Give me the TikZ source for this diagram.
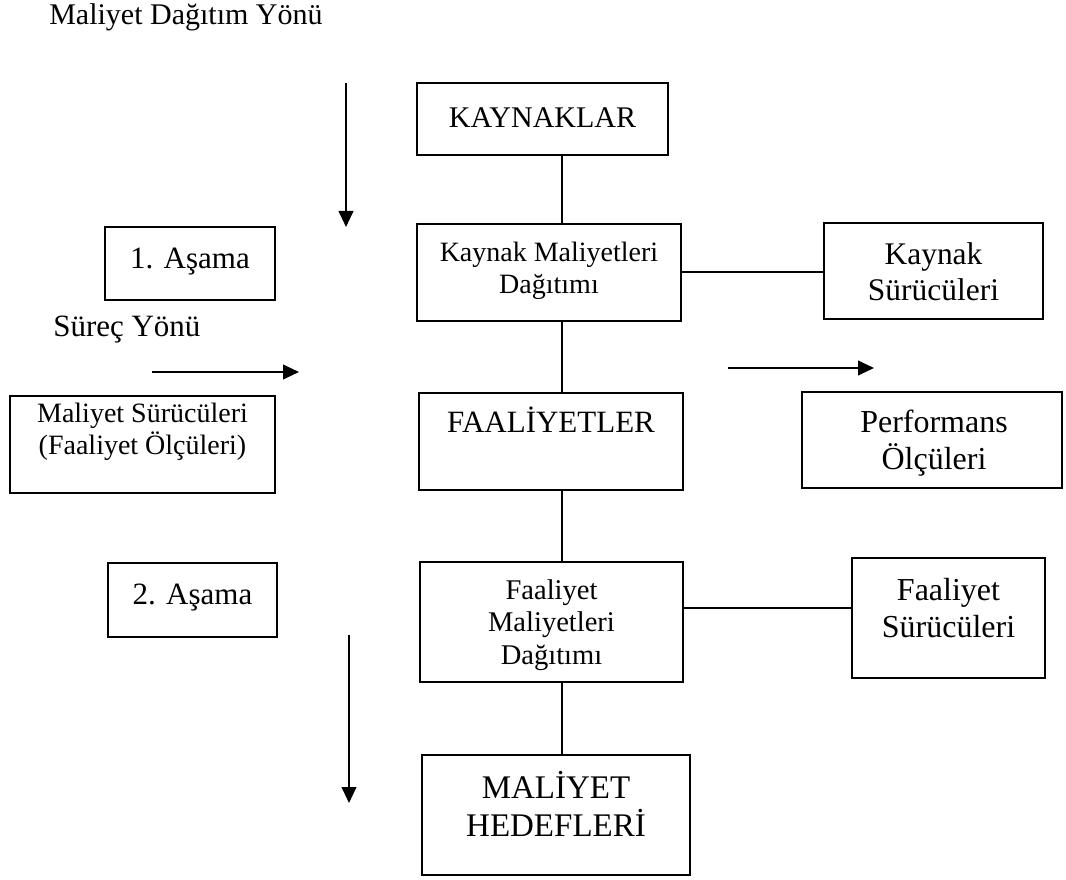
\documentclass[tikz,border=0pt]{standalone}
\usepackage{fontspec}
\setmainfont{Liberation Serif}
\usetikzlibrary{arrows.meta,calc}
\begin{document}
\begin{tikzpicture}[x=0.75pt,y=-0.75pt,
  box/.style={draw=black,line width=1.6pt,inner sep=0pt},
  sz/.style 2 args={minimum width=#1*0.75pt,minimum height=#2*0.75pt},
  lbl/.style={inner sep=0pt,align=center,text=black},
  conn/.style={draw=black,line width=1.5pt},
  flow/.style={draw=black,line width=1.5pt,-{Triangle[length=12pt,width=11pt]}},
  f28/.style={font=\fontsize{21}{24.2}\selectfont},
  f285/.style={font=\fontsize{21.4}{24.6}\selectfont},
  f30/.style={font=\fontsize{22.5}{25.9}\selectfont},
  f31/.style={font=\fontsize{23.25}{26.7}\selectfont},
  f315/.style={font=\fontsize{23.6}{27.2}\selectfont},
  f32/.style={font=\fontsize{24}{27.6}\selectfont},
  f33/.style={font=\fontsize{24.75}{28.5}\selectfont},
]
\fill[white] (0,0) rectangle (1066,880);
\useasboundingbox (0,0) rectangle (1066,880);

% direction captions
\node[lbl,f30,anchor=west] (ttl) at (49,17) {Maliyet Dağıtım Yönü};
\node[lbl,f31,anchor=west] (surec) at (53,330) {Süreç Yönü};

% main column
\node[box,sz={251}{72}] (kay) at (542.5,119) {};
\node[lbl,f30] (kay-t) at (542.5,118) {KAYNAKLAR};

\node[box,sz={264}{97}] (kmd) at (549,272.5) {};
\node[lbl,f28] (kmd-t) at (549,271) {Kaynak Maliyetleri\\Dağıtımı};

\node[box,sz={264}{97}] (fa) at (551,441.5) {};
\node[lbl,f31] (fa-t) at (551,420) {FAALİYETLER};

\node[box,sz={263}{120}] (fmd) at (551.5,622) {};
\node[lbl,f285] (fmd-t) at (551.5,625) {Faaliyet\\Maliyetleri\\Dağıtımı};

\node[box,sz={268}{120}] (mh) at (556,815) {};
\node[lbl,f33] (mh-t) at (556,804) {MALİYET\\HEDEFLERİ};

% left column
\node[box,sz={170}{73}] (as1) at (190,263.5) {};
\node[lbl,f31] (as1-t) at (190,262) {1. Aşama};

\node[box,sz={265}{97}] (msr) at (142.5,444.5) {};
\node[lbl,f28] (msr-t) at (142.5,432) {Maliyet Sürücüleri\\(Faaliyet Ölçüleri)};

\node[box,sz={169}{74}] (as2) at (192.5,600) {};
\node[lbl,f31] (as2-t) at (192.5,598) {2. Aşama};

% right column
\node[box,sz={219}{96}] (ksr) at (933.5,271) {};
\node[lbl,f315] (ksr-t) at (933.5,272) {Kaynak\\Sürücüleri};

\node[box,sz={260}{96}] (prf) at (932,440) {};
\node[lbl,f32] (prf-t) at (934,443) {Performans\\Ölçüleri};

\node[box,sz={193}{120}] (fsr) at (948.5,618) {};
\node[lbl,f32] (fsr-t) at (948.5,608) {Faaliyet\\Sürücüleri};

% connectors
\coordinate (spine) at (562,0);
\coordinate (row2) at (0,608);
\draw[conn] (kay.south -| spine) -- (kmd.north -| spine);
\draw[conn] (kmd.south -| spine) -- (fa.north -| spine);
\draw[conn] (fa.south -| spine) -- (fmd.north -| spine);
\draw[conn] (fmd.south -| spine) -- (mh.north -| spine);
\draw[conn] (kmd.east) -- (kmd.east -| ksr.west);
\draw[conn] (fmd.east |- row2) -- (fsr.west |- row2);

% direction arrows
\coordinate (d1a) at (346,83);  \coordinate (d1b) at (346,227);
\coordinate (r1a) at (152,372); \coordinate (r1b) at (299,372);
\coordinate (r2a) at (728,368); \coordinate (r2b) at (874,368);
\coordinate (d2a) at (349,635); \coordinate (d2b) at (349,803);
\draw[flow] (d1a) -- (d1b);
\draw[flow] (r1a) -- (r1b);
\draw[flow] (r2a) -- (r2b);
\draw[flow] (d2a) -- (d2b);
\end{tikzpicture}
\end{document}
